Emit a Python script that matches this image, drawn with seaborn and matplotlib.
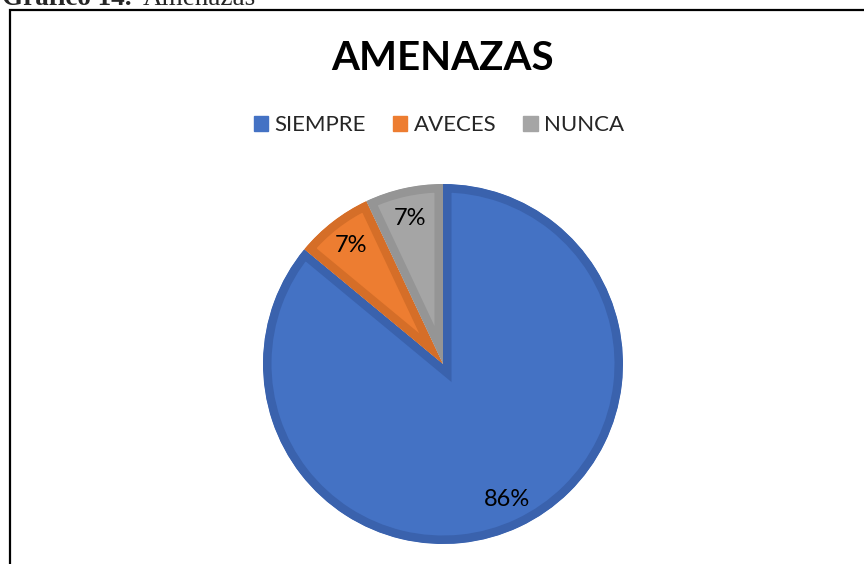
import matplotlib
matplotlib.use("Agg")
import matplotlib.pyplot as plt
import seaborn as sns
from matplotlib.patches import Patch, Rectangle

# ---- data ----
categories = ["SIEMPRE", "AVECES", "NUNCA"]
values = [86, 7, 7]
title = "AMENAZAS"
header_bold = "Gráfico 14."
header_regular = "Amenazas"

sns.set_theme(style="white")
plt.rcParams['font.family'] = ['Lato', 'DejaVu Sans']

fill_colors = ["#4472C4", "#ED7D31", "#A5A5A5"]
edge_colors = ["#3A62AD", "#D56E28", "#959595"]

W, H = 864, 564
fig = plt.figure(figsize=(W / 100, H / 100), dpi=100)
fig.patch.set_facecolor("white")

# pie axes
cx, cy, r = 443, 364, 180
ax = fig.add_axes([(cx - r) / W, (H - cy - r) / H, 2 * r / W, 2 * r / H])
wedges, texts, autotexts = ax.pie(
    values, colors=fill_colors, startangle=90, counterclock=False,
    radius=1.0, autopct='%.0f%%', pctdistance=0.83,
    textprops=dict(fontsize=17, color="black"),
)
for w, ec in zip(wedges, edge_colors):
    w.set_edgecolor(ec)
    w.set_linewidth(17 * 72 / 100)
    w.set_joinstyle("miter")
    w.set_clip_path(w)
    w.set_clip_on(True)
ax.set_xlim(-1, 1)
ax.set_ylim(-1, 1)
ax.set_aspect("equal")
ax.axis("off")

# title
fig.text(cx / W, 1 - 58 / H, title, ha="center", va="center",
         fontsize=29, fontweight="bold", color="black")

# legend
handles = [Patch(facecolor=c, edgecolor=c) for c in fill_colors]
fig.legend(handles, categories, loc="center", bbox_to_anchor=(439 / W, 1 - 125 / H),
           ncol=3, frameon=False, fontsize=16, handlelength=0.65, handleheight=0.65,
           handletextpad=0.3, columnspacing=1.2)

# frame
fig.patches.append(Rectangle((9.5 / W, -0.2), 1.2, 1 - 9.5 / H + 0.2, fill=False,
                             edgecolor="black", linewidth=1.6,
                             transform=fig.transFigure, figure=fig))

# header (cut off at top, as in the reference)
fig.text(2 / W, 1 - 5 / H, header_bold, ha="left", va="baseline",
         fontsize=19.5, fontweight="bold", family=["Liberation Serif"])
fig.text(143 / W, 1 - 5 / H, header_regular, ha="left", va="baseline",
         fontsize=19.5, family=["Liberation Serif"])

fig.savefig("out.png", dpi=100)
